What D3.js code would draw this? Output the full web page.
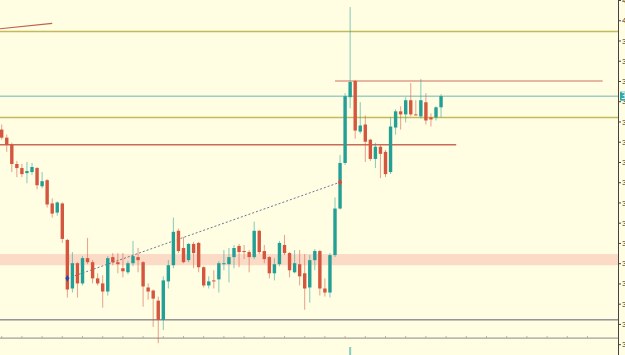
<!DOCTYPE html>
<html>
<head>
<meta charset="utf-8">
<script src="https://cdn.jsdelivr.net/npm/d3@7/dist/d3.min.js"></script>
<style>
  html, body { margin: 0; padding: 0; background: #fffde2; overflow: hidden; }
  svg { display: block; font-family: "DejaVu Sans", sans-serif; }
</style>
</head>
<body>
<div id="chart"></div>
<script>
// OHLC per bar
const opens = [3.892,3.884,3.877,3.858,3.854,3.849,3.850,3.854,3.836,3.842,
  3.819,3.810,3.819,3.783,3.735,3.760,3.740,3.765,3.761,3.745,
  3.740,3.732,3.766,3.761,3.755,3.751,3.760,3.766,3.761,3.736,
  3.733,3.723,3.704,3.742,3.758,3.792,3.775,3.763,3.779,3.780,
  3.756,3.738,3.743,3.744,3.759,3.759,3.766,3.777,3.772,3.771,
  3.766,3.792,3.772,3.766,3.750,3.759,3.778,3.770,3.751,3.759,
  3.750,3.736,3.763,3.772,3.735,3.731,3.768,3.814,3.859,3.924,
  3.940,3.890,3.897,3.882,3.863,3.875,3.870,3.850,3.894,3.910,
  3.907,3.921,3.907,3.905,3.919,3.904,3.904,3.914];
const highs = [3.897,3.887,3.879,3.861,3.858,3.860,3.859,3.855,3.850,3.843,
  3.824,3.821,3.820,3.784,3.771,3.761,3.767,3.785,3.763,3.750,
  3.748,3.767,3.770,3.770,3.770,3.762,3.782,3.775,3.762,3.740,
  3.734,3.727,3.747,3.763,3.805,3.794,3.786,3.780,3.781,3.781,
  3.757,3.747,3.753,3.762,3.773,3.775,3.778,3.779,3.778,3.773,
  3.801,3.793,3.778,3.767,3.765,3.782,3.788,3.771,3.773,3.773,
  3.769,3.768,3.774,3.773,3.745,3.770,3.825,3.867,3.928,4.013,
  3.941,3.919,3.906,3.883,3.879,3.877,3.872,3.904,3.912,3.915,
  3.924,3.938,3.921,3.942,3.928,3.908,3.915,3.927];
const lows = [3.882,3.870,3.850,3.845,3.845,3.839,3.847,3.833,3.834,3.815,
  3.805,3.807,3.780,3.726,3.731,3.726,3.738,3.759,3.740,3.738,
  3.716,3.728,3.758,3.750,3.746,3.749,3.757,3.751,3.717,3.724,
  3.697,3.681,3.694,3.735,3.755,3.770,3.760,3.761,3.755,3.751,
  3.736,3.735,3.735,3.731,3.753,3.741,3.755,3.756,3.764,3.751,
  3.764,3.769,3.760,3.745,3.743,3.757,3.768,3.746,3.750,3.738,
  3.714,3.721,3.753,3.728,3.727,3.726,3.766,3.813,3.857,3.913,
  3.883,3.888,3.860,3.861,3.854,3.844,3.845,3.848,3.887,3.892,
  3.899,3.905,3.906,3.903,3.897,3.895,3.901,3.904];
const closes = [3.884,3.877,3.858,3.854,3.848,3.851,3.855,3.837,3.841,3.818,
  3.809,3.820,3.784,3.734,3.760,3.740,3.765,3.761,3.745,3.740,
  3.732,3.765,3.761,3.759,3.752,3.760,3.767,3.763,3.737,3.732,
  3.725,3.704,3.743,3.758,3.791,3.772,3.761,3.779,3.770,3.756,
  3.738,3.742,3.742,3.760,3.760,3.766,3.775,3.771,3.771,3.766,
  3.792,3.771,3.764,3.750,3.759,3.780,3.770,3.753,3.760,3.747,
  3.735,3.763,3.772,3.735,3.731,3.768,3.814,3.859,3.925,3.939,
  3.891,3.896,3.880,3.863,3.875,3.868,3.848,3.895,3.910,3.907,
  3.921,3.907,3.906,3.921,3.901,3.902,3.914,3.925];

// drawn levels (prices) and their bar spans
const olivePrices   = [3.989, 3.904];
const resistance    = { price: 3.940, bars: [66, 119] };
const support       = { price: 3.877, bars: [-1, 90] };
const zone          = [3.758, 3.769];
const lowerPrices   = [3.704];
const timeAxisPrice = 3.686;
const topTrend      = { bars: [-0.5, 10], prices: [3.9915, 3.997] };
const dashTrend     = { bars: [13, 67], prices: [3.745, 3.840] };
const markerBar     = 69;
const tickPrices    = d3.range(3.68, 4.021, 0.02);

const WIDTH   = 625;
const HEIGHT  = 355;
const AXIS_X  = 618;
const BAR_W   = 3.4;
const UP      = '#22a096';
const DOWN    = '#d4563f';

const svg = d3.select('#chart').append('svg')
    .attr('width', WIDTH)
    .attr('height', HEIGHT);

svg.append('rect').attr('width', WIDTH).attr('height', HEIGHT).attr('fill', '#fffde2');

const x = d3.scaleLinear().domain([0, 119]).range([1.7, 1.7 + 5.05 * 119]);
const y = d3.scaleLinear().domain([3.6693, 4.020]).range([HEIGHT, 0]);

const bars = d3.range(opens.length).map(i => ({
    i, o: opens[i], h: highs[i], l: lows[i], c: closes[i]
}));

// zone band
svg.append('rect')
    .attr('x', 0)
    .attr('width', AXIS_X)
    .attr('y', y(zone[1]))
    .attr('height', y(zone[0]) - y(zone[1]))
    .attr('fill', '#fbdac6');

// full width levels
svg.selectAll('.olive')
    .data(olivePrices)
    .join('line')
    .attr('class', 'olive')
    .attr('x1', 0).attr('x2', AXIS_X)
    .attr('y1', d => y(d)).attr('y2', d => y(d))
    .attr('stroke', '#c2bb5c')
    .attr('stroke-width', 1.5);

svg.selectAll('.lower')
    .data(lowerPrices)
    .join('line')
    .attr('class', 'lower')
    .attr('x1', 0).attr('x2', AXIS_X)
    .attr('y1', d => y(d)).attr('y2', d => y(d))
    .attr('stroke', '#5c5c6c')
    .attr('stroke-width', 1);

// bottom time line with ticks every 4 bars
const timeY = y(timeAxisPrice);
svg.append('line')
    .attr('x1', 0).attr('x2', AXIS_X)
    .attr('y1', timeY).attr('y2', timeY)
    .attr('stroke', '#8a8a8a')
    .attr('stroke-width', 1);

svg.selectAll('.tt')
    .data(d3.range(0, 120, 4))
    .join('line')
    .attr('class', 'tt')
    .attr('x1', d => x(d)).attr('x2', d => x(d))
    .attr('y1', timeY - 2).attr('y2', timeY)
    .attr('stroke', '#b0b0a0');

// support / resistance segments
svg.append('line')
    .attr('x1', x(support.bars[0])).attr('x2', x(support.bars[1]))
    .attr('y1', y(support.price)).attr('y2', y(support.price))
    .attr('stroke', '#cc6a58')
    .attr('stroke-width', 1.3);

svg.append('line')
    .attr('x1', x(resistance.bars[0])).attr('x2', x(resistance.bars[1]))
    .attr('y1', y(resistance.price)).attr('y2', y(resistance.price))
    .attr('stroke', '#d0705e')
    .attr('stroke-width', 1.2);

// last price line
const last = closes[closes.length - 1];
svg.append('line')
    .attr('x1', 0).attr('x2', AXIS_X)
    .attr('y1', y(last)).attr('y2', y(last))
    .attr('stroke', '#6cb8b0')
    .attr('stroke-width', 1);

// trend lines
svg.append('line')
    .attr('x1', x(topTrend.bars[0])).attr('x2', x(topTrend.bars[1]))
    .attr('y1', y(topTrend.prices[0])).attr('y2', y(topTrend.prices[1]))
    .attr('stroke', '#c0604e')
    .attr('stroke-width', 1.2);

svg.append('line')
    .attr('x1', x(dashTrend.bars[0])).attr('x2', x(dashTrend.bars[1]))
    .attr('y1', y(dashTrend.prices[0])).attr('y2', y(dashTrend.prices[1]))
    .attr('stroke', '#6c7890')
    .attr('stroke-width', 1)
    .attr('stroke-dasharray', '2,2');

// candles
const candle = svg.selectAll('.candle')
    .data(bars)
    .join('g')
    .attr('class', 'candle');

candle.append('line')
    .attr('x1', d => x(d.i)).attr('x2', d => x(d.i))
    .attr('y1', d => y(d.h)).attr('y2', d => y(d.l))
    .attr('stroke', d => d.c >= d.o ? UP : DOWN)
    .attr('stroke-opacity', 0.55)
    .attr('stroke-width', 1);

candle.append('rect')
    .attr('x', d => x(d.i) - BAR_W / 2)
    .attr('width', BAR_W)
    .attr('y', d => y(Math.max(d.o, d.c)))
    .attr('height', d => Math.max(1, Math.abs(y(d.o) - y(d.c))))
    .attr('fill', d => d.c >= d.o ? UP : DOWN);

// trend end markers
svg.append('path')
    .attr('d', d3.symbol(d3.symbolDiamond, 14)())
    .attr('transform', `translate(${x(dashTrend.bars[0])},${y(dashTrend.prices[0])})`)
    .attr('fill', '#2848a8');

svg.append('path')
    .attr('d', d3.symbol(d3.symbolDiamond, 14)())
    .attr('transform', `translate(${x(dashTrend.bars[1])},${y(dashTrend.prices[1])})`)
    .attr('fill', '#d84a40');

// bar marker on the time line
svg.append('line')
    .attr('x1', x(markerBar)).attr('x2', x(markerBar))
    .attr('y1', 347).attr('y2', HEIGHT)
    .attr('stroke', '#86ccc4')
    .attr('stroke-width', 2);

// right price axis
const axis = svg.append('g')
    .attr('transform', `translate(${AXIS_X},0)`)
    .call(d3.axisRight(y).tickValues(tickPrices).tickSize(3).tickFormat(d3.format('.2f')));

axis.select('.domain').attr('stroke', '#444');
axis.selectAll('.tick line').attr('stroke', '#444');
axis.selectAll('.tick text')
    .attr('x', 4)
    .attr('fill', '#333')
    .style('font-size', '8px');

// last price tag
svg.append('rect')
    .attr('x', AXIS_X + 2)
    .attr('y', y(last) - 4.5)
    .attr('width', 8)
    .attr('height', 9)
    .attr('fill', '#3aa8a0');

svg.append('text')
    .attr('x', AXIS_X + 3)
    .attr('y', y(last) + 3)
    .attr('fill', '#ffffff')
    .style('font-size', '8px')
    .text(d3.format('.3f')(last));
</script>
</body>
</html>
